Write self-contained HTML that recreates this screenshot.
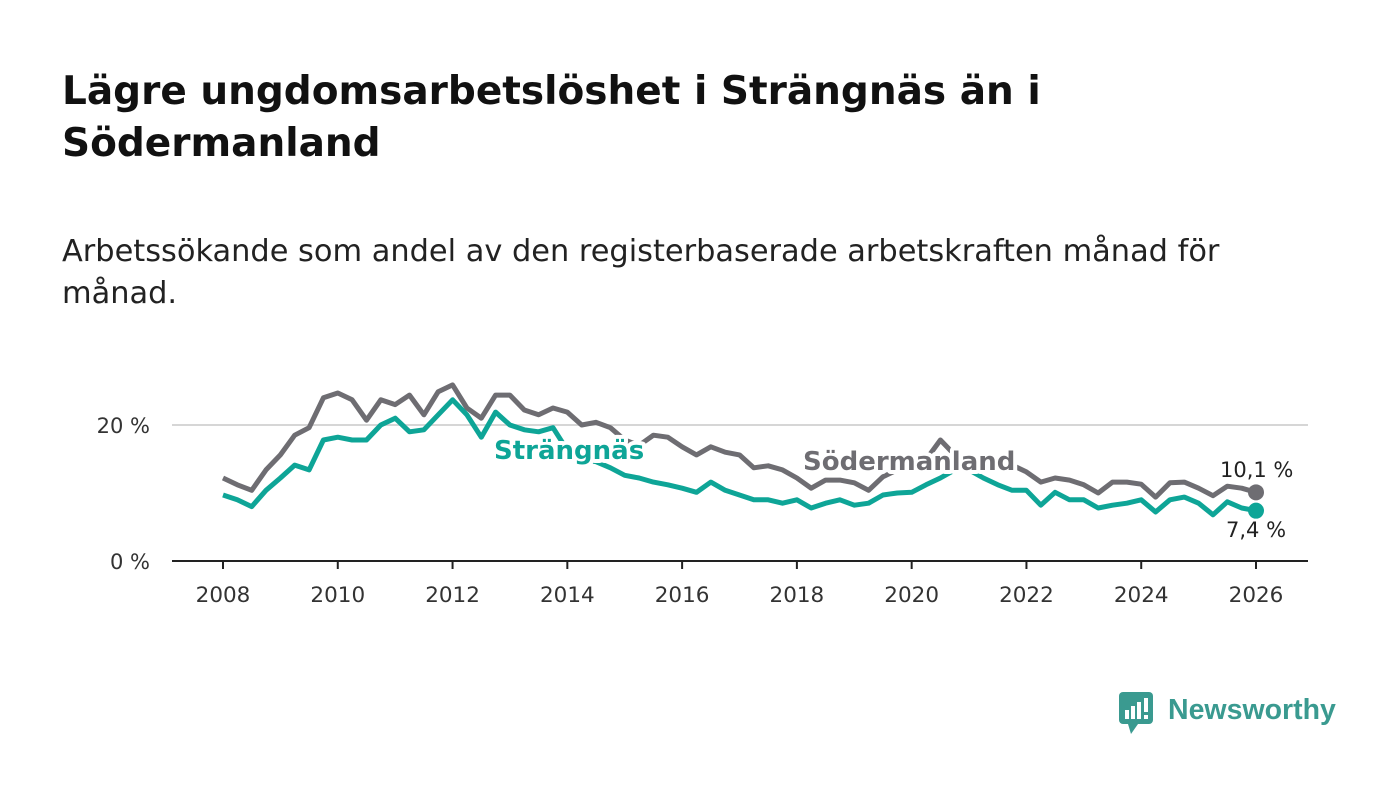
<!DOCTYPE html>
<html><head><meta charset="utf-8"><style>
body{margin:0;background:#fff;font-family:"Liberation Sans",sans-serif;}
svg text{font-family:"DejaVu Sans","Liberation Sans",sans-serif;}
</style></head><body>
<svg id="c" width="1400" height="794" viewBox="0 0 1400 794">
<text x="62" y="104" font-size="39" font-weight="bold" fill="#111">Lägre ungdomsarbetslöshet i Strängnäs än i</text>
<text x="62" y="156" font-size="39" font-weight="bold" fill="#111">Södermanland</text>
<text x="62" y="261" font-size="30.4" fill="#222">Arbetssökande som andel av den registerbaserade arbetskraften månad för</text>
<text x="62" y="303" font-size="30.4" fill="#222">månad.</text>
<g id="plot"></g>
<g>
<rect x="1119" y="692" width="34" height="32" rx="4" fill="#3a9a90"/>
<polygon points="1128,724 1138,724 1131,734" fill="#3a9a90"/>
<rect x="1125" y="710" width="4" height="9" fill="#fff"/><rect x="1131" y="706" width="4" height="13" fill="#fff"/><rect x="1137" y="702" width="4" height="17" fill="#fff"/><rect x="1144" y="698" width="4" height="14" fill="#fff"/><rect x="1144" y="715" width="4" height="4" fill="#fff"/>
<text x="1168" y="719" font-size="28.5" font-weight="bold" fill="#3a9a90" style="font-family:'Liberation Sans',sans-serif">Newsworthy</text>
</g>
</svg>
<script>
const years=[2008,2010,2012,2014,2016,2018,2020,2022,2024,2026];
const yTicks=[0,20];
const startYear=2008;
const sodermanland=[12.2,11.2,10.4,13.4,15.6,18.5,19.6,24.0,24.7,23.7,20.7,23.7,23.0,24.4,21.5,24.9,25.9,22.5,21.0,24.4,24.4,22.2,21.5,22.5,21.9,20.0,20.4,19.6,17.8,17.0,18.5,18.2,16.8,15.6,16.8,16.0,15.6,13.7,14.0,13.4,12.2,10.7,11.9,11.9,11.5,10.4,12.4,13.4,14.1,14.9,17.8,15.6,14.9,14.6,14.6,14.1,13.1,11.6,12.2,11.9,11.2,10.0,11.6,11.6,11.3,9.4,11.5,11.6,10.7,9.6,11.0,10.7,10.1];
const strangnas=[9.7,9.0,8.0,10.4,12.2,14.1,13.4,17.8,18.2,17.8,17.8,20.0,21.0,19.0,19.3,21.5,23.7,21.5,18.2,21.9,20.0,19.3,19.0,19.6,16.3,14.9,14.6,13.7,12.6,12.2,11.6,11.2,10.7,10.1,11.6,10.4,9.7,9.0,9.0,8.5,9.0,7.8,8.5,9.0,8.2,8.5,9.7,10.0,10.1,11.2,12.2,13.4,13.4,12.2,11.2,10.4,10.4,8.2,10.1,9.0,9.0,7.8,8.2,8.5,9.0,7.2,9.0,9.4,8.5,6.8,8.7,7.8,7.4];
const NS="http://www.w3.org/2000/svg";
const g=document.getElementById('plot');
const X=y=>223+(y-2008)*(1256-223)/18;
const Y=v=>561-v*6.8;
function mk(t,a){const e=document.createElementNS(NS,t);for(const k in a)e.setAttribute(k,a[k]);g.appendChild(e);return e;}
yTicks.forEach(t=>{
 if(t>0){const l=mk('line',{x1:172,x2:1308,y1:Y(t),y2:Y(t),stroke:'#d6d6d6','stroke-width':2});
 
 }
 const tx=mk('text',{x:150,y:Y(t)+8,'font-size':21,fill:'#333','text-anchor':'end'});tx.textContent=t+' %';
 
 
});
const ax=mk('line',{x1:172,x2:1308,y1:561,y2:561,stroke:'#222','stroke-width':2});


years.forEach(yr=>{
 const tk=mk('line',{x1:X(yr),x2:X(yr),y1:561,y2:569,stroke:'#222','stroke-width':2});
 
 
 const tx=mk('text',{x:X(yr),y:602,'font-size':21.5,fill:'#333','text-anchor':'middle'});tx.textContent=yr;
 
 
});
function line(arr,col,name){
 const d=arr.map((v,i)=>(i?'L':'M')+X(startYear+i*0.25).toFixed(1)+','+Y(v).toFixed(1)).join('');
 const p=mk('path',{d:d,fill:'none',stroke:col,'stroke-width':5,'stroke-linejoin':'round'});
 
 
}
line(sodermanland,'#6e6d72','sodermanland-line');
line(strangnas,'#0ea597','strangnas-line');
function lab(x,y,txt,col,name,size,bold){
 const t=mk('text',{x:x,y:y,'font-size':size,fill:col,'font-weight':bold?'bold':'normal',stroke:'#fff','stroke-width':bold?8:5,'paint-order':'stroke','stroke-linejoin':'round'});t.textContent=txt;
 
 
}
lab(494,459,'Strängnäs','#0ea597','strangnas-label',26,true);
lab(803,470,'Södermanland','#6e6d72','sodermanland-label',26,true);
const n=sodermanland.length-1;
const d1=mk('circle',{cx:X(startYear+n*0.25),cy:Y(sodermanland[n]),r:8,fill:'#6e6d72'});


const d2=mk('circle',{cx:X(startYear+n*0.25),cy:Y(strangnas[n]),r:8,fill:'#0ea597'});


lab(1220,477,sodermanland[n].toFixed(1).replace('.',',')+' %','#222','sodermanland-end-value',21,false);
lab(1226,537,strangnas[n].toFixed(1).replace('.',',')+' %','#222','strangnas-end-value',21,false);
</script>
</body></html>
